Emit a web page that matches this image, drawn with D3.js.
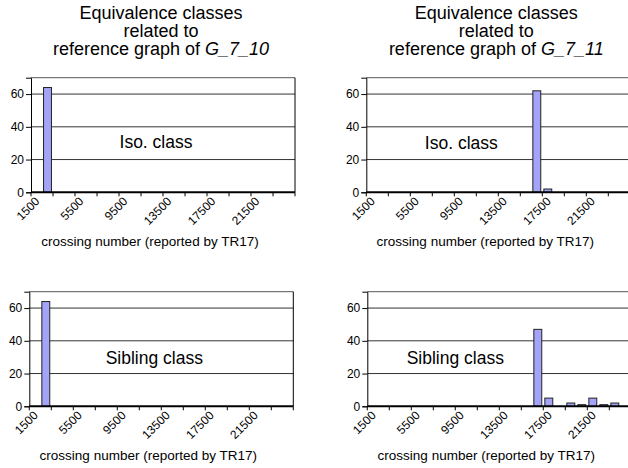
<!DOCTYPE html>
<html>
<head>
<meta charset="utf-8">
<script src="https://cdn.jsdelivr.net/npm/d3@7"></script>
<style>
  body { margin: 0; background: #fff; }
  text { font-family: "Liberation Sans", Arial, sans-serif; fill: #000; }
</style>
</head>
<body>
<div id="chart"></div>
<script>
// categories (bin labels of crossing number) and tick labels
var categories = [1500, 2500, 3500, 4500, 5500, 6500, 7500, 8500, 9500, 10500, 11500, 12500,
                  13500, 14500, 15500, 16500, 17500, 18500, 19500, 20500, 21500, 22500, 23500, 24500];
var labelCats = [1500, 5500, 9500, 13500, 17500, 21500];
var tickEdges = [1000, 3000, 5000, 7000, 9000, 11000, 13000, 15000, 17000, 19000, 21000, 23000, 25000];
var yTicks = [0, 20, 40, 60];

// counts per bin
var isoG710     = [0, 64, 0, 0, 0, 0, 0, 0, 0, 0, 0, 0, 0, 0, 0, 0, 0, 0, 0, 0, 0, 0, 0, 0];
var isoG711     = [0, 0, 0, 0, 0, 0, 0, 0, 0, 0, 0, 0, 0, 0, 0, 62, 2, 0, 0, 0, 0, 0, 0, 0];
var siblingG710 = [0, 64, 0, 0, 0, 0, 0, 0, 0, 0, 0, 0, 0, 0, 0, 0, 0, 0, 0, 0, 0, 0, 0, 0];
var siblingG711 = [0, 0, 0, 0, 0, 0, 0, 0, 0, 0, 0, 0, 0, 0, 0, 47, 5, 0, 2, 1, 5, 1, 2, 0];

var width = 264, height = 114.6;

var panels = [
  {values: isoG710, left: 31, top: 77.7, title: "G_7_10", label: "Iso. class", lx: 125, ly: 70.6},
  {values: isoG711, left: 366.3, top: 77.7, title: "G_7_11", label: "Iso. class", lx: 95, ly: 71.6},
  {values: siblingG710, left: 29.3, top: 291.7, title: null, label: "Sibling class", lx: 125, ly: 72.6},
  {values: siblingG711, left: 367.3, top: 291.7, title: null, label: "Sibling class", lx: 88, ly: 72.3}
];

var svg = d3.select("#chart")
  .append("svg")
    .attr("width", 628)
    .attr("height", 468);

var x = d3.scaleBand()
  .domain(categories)
  .range([0, width])
  .paddingInner(0.28)
  .paddingOuter(0.14);

var xEdge = d3.scaleLinear()
  .domain([1000, 25000])
  .range([0, width]);

var y = d3.scaleLinear()
  .domain([0, 70])
  .range([height, 0]);

panels.forEach(function(p) {
  var g = svg.append("g")
    .attr("transform", "translate(" + p.left + "," + p.top + ")");

  var data = p.values.map(function(v, i) { return {cat: categories[i], val: v}; })
    .filter(function(d) { return d.val > 0; });

  // title
  if (p.title) {
    var t = g.append("text")
      .attr("text-anchor", "middle")
      .style("font-size", "18px");
    t.append("tspan").attr("x", width / 2 - 2).attr("y", -58.4).text("Equivalence classes");
    t.append("tspan").attr("x", width / 2 - 2).attr("y", -40.6).text("related to");
    t.append("tspan").attr("x", width / 2 - 2).attr("y", -22.4).text("reference graph of ");
    t.append("tspan").style("font-style", "italic").text(p.title);
  }

  // gridlines
  g.selectAll(".grid")
    .data([20, 40, 60])
    .enter()
    .append("line")
      .attr("x1", 0)
      .attr("x2", width)
      .attr("y1", function(d) { return y(d); })
      .attr("y2", function(d) { return y(d); })
      .attr("stroke", "#333")
      .attr("stroke-width", 1);

  // frame top and right
  g.append("line").attr("x1", 0).attr("x2", width).attr("y1", 0).attr("y2", 0)
    .attr("stroke", "#555").attr("stroke-width", 1);
  g.append("line").attr("x1", width).attr("x2", width).attr("y1", 0).attr("y2", height)
    .attr("stroke", "#000").attr("stroke-width", 1);

  // bars
  g.selectAll(".bar")
    .data(data)
    .enter()
    .append("rect")
      .attr("x", function(d) { return x(d.cat); })
      .attr("y", function(d) { return y(d.val); })
      .attr("width", x.bandwidth())
      .attr("height", function(d) { return height - y(d.val); })
      .attr("fill", "#a3a3f7")
      .attr("stroke", "#222")
      .attr("stroke-width", 1);

  // y axis
  var yAxis = g.append("g")
    .call(d3.axisLeft(y).tickValues(yTicks).tickSize(5).tickPadding(2));
  yAxis.select(".domain").attr("stroke", "#000");
  yAxis.selectAll("text").style("font-size", "12px").style("font-family", "'Liberation Sans', Arial, sans-serif");

  // x baseline and ticks
  g.append("line").attr("x1", 0).attr("x2", width).attr("y1", height).attr("y2", height)
    .attr("stroke", "#000").attr("stroke-width", 2);
  g.selectAll(".xtick")
    .data(tickEdges)
    .enter()
    .append("line")
      .attr("x1", function(d) { return xEdge(d); })
      .attr("x2", function(d) { return xEdge(d); })
      .attr("y1", height)
      .attr("y2", height + 4)
      .attr("stroke", "#000");

  // rotated tick labels
  g.selectAll(".xlabel")
    .data(labelCats)
    .enter()
    .append("text")
      .attr("text-anchor", "end")
      .attr("dominant-baseline", "central")
      .attr("transform", function(d) {
        return "translate(" + (x(d) + x.bandwidth() / 2 + 1) + "," + (height + 7) + ")rotate(-45)";
      })
      .style("font-size", "12px")
      .text(function(d) { return d; });

  // axis title
  g.append("text")
    .attr("x", width / 2 - 13)
    .attr("y", height + 53.5)
    .attr("text-anchor", "middle")
    .style("font-size", "13.5px")
    .text("crossing number (reported by TR17)");

  // class label
  g.append("text")
    .attr("x", p.lx)
    .attr("y", p.ly)
    .attr("text-anchor", "middle")
    .style("font-size", "17.5px")
    .text(p.label);
});
</script>
</body>
</html>
